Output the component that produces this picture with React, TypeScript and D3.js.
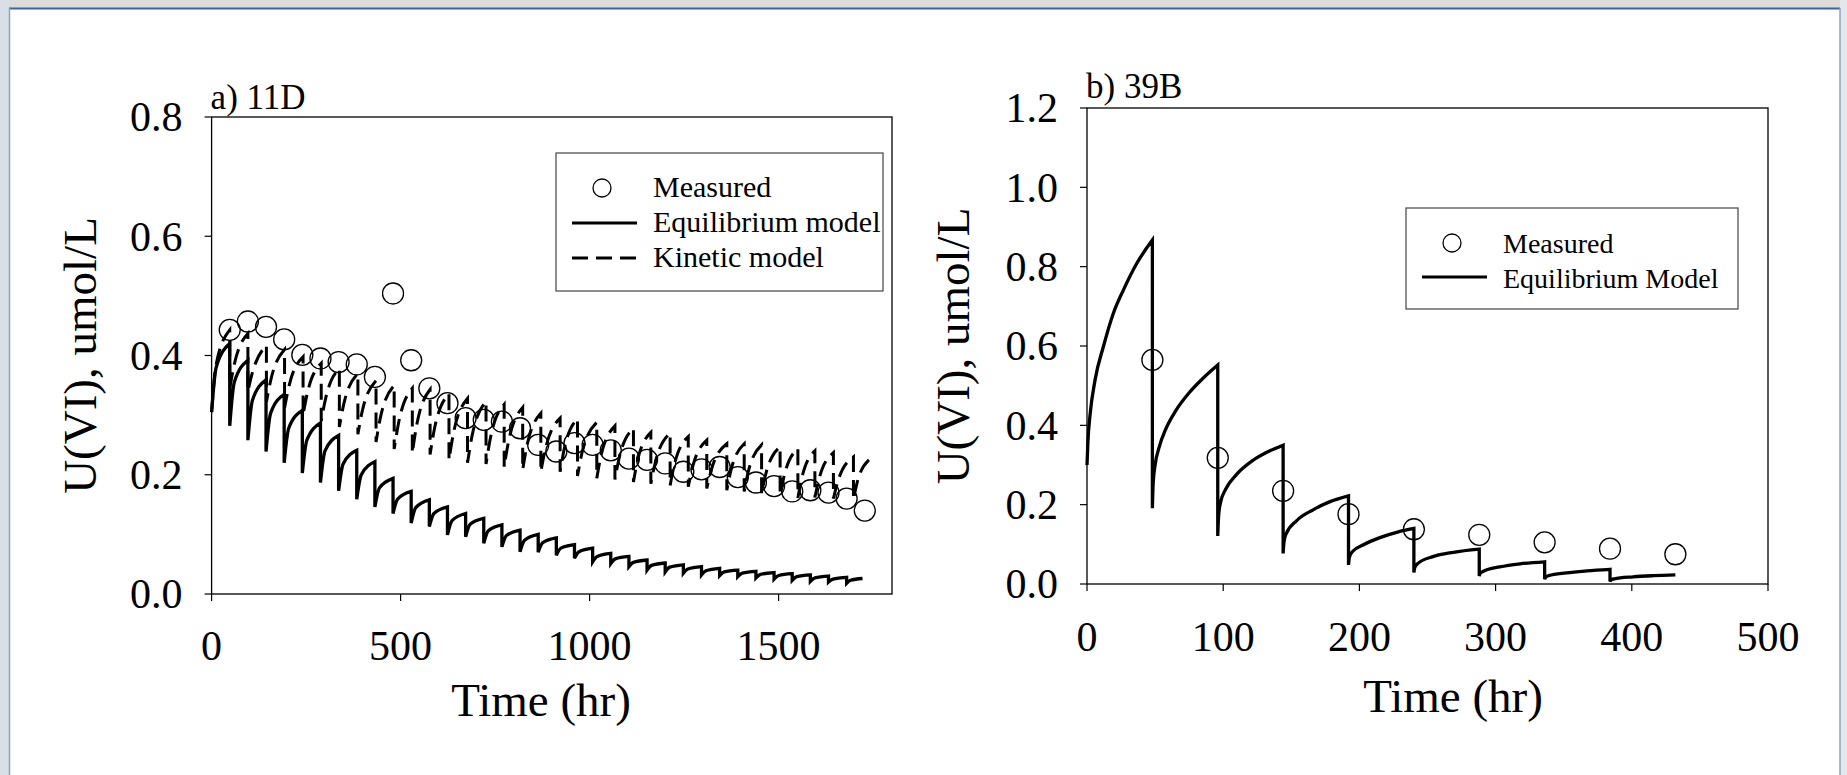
import React, { useEffect } from 'react';
import * as d3 from 'd3';

// ---- a) 11D ----
// measured U(VI), sampled every 48 hr
const measATime = [48, 96, 144, 192, 240, 288, 336, 384, 432, 480, 528, 576, 624, 672, 720, 768, 816, 864,
  912, 960, 1008, 1056, 1104, 1152, 1200, 1248, 1296, 1344, 1392, 1440, 1488, 1536, 1584, 1632, 1680, 1728];
const measAValue = [0.443, 0.457, 0.448, 0.427, 0.401, 0.395, 0.389, 0.385, 0.364, 0.504, 0.392, 0.345,
  0.320, 0.295, 0.292, 0.289, 0.278, 0.250, 0.239, 0.253, 0.250, 0.241, 0.227, 0.225, 0.219, 0.205, 0.209,
  0.213, 0.196, 0.187, 0.181, 0.172, 0.174, 0.170, 0.160, 0.140];

// equilibrium model: each tooth starts at a drop (low), passes mid (1/4 of the way), ends at peak
const eqAStart = [0, 48, 96, 144, 192, 240, 288, 336, 384, 432, 480, 528, 576, 624, 672, 720, 768, 816,
  864, 912, 960, 1008, 1056, 1104, 1152, 1200, 1248, 1296, 1344, 1392, 1440, 1488, 1536, 1584, 1632, 1680];
const eqAEnd = 1722;
const eqALow = [0.305, 0.282, 0.258, 0.239, 0.220, 0.203, 0.187, 0.173, 0.159, 0.146, 0.135, 0.119, 0.113,
  0.099, 0.096, 0.085, 0.079, 0.071, 0.070, 0.065, 0.060, 0.054, 0.051, 0.046, 0.040, 0.037, 0.035, 0.032,
  0.031, 0.029, 0.027, 0.025, 0.023, 0.021, 0.020, 0.018];
const eqAMid = [0.380, 0.355, 0.325, 0.303, 0.278, 0.258, 0.240, 0.218, 0.200, 0.178, 0.159, 0.145, 0.135,
  0.123, 0.117, 0.106, 0.098, 0.090, 0.086, 0.077, 0.071, 0.063, 0.059, 0.053, 0.048, 0.045, 0.042, 0.039,
  0.037, 0.035, 0.033, 0.031, 0.029, 0.027, 0.025, 0.023];
const eqAPeak = [0.420, 0.392, 0.359, 0.335, 0.308, 0.287, 0.266, 0.241, 0.222, 0.194, 0.172, 0.158, 0.146,
  0.135, 0.127, 0.116, 0.107, 0.100, 0.094, 0.083, 0.077, 0.068, 0.063, 0.057, 0.052, 0.049, 0.046, 0.043,
  0.040, 0.038, 0.036, 0.034, 0.032, 0.030, 0.028, 0.026];

// kinetic model (dashed)
const kinAStart = [0, 48, 96, 145, 193, 242, 290, 338, 387, 435, 483, 531, 578, 628, 677, 726, 774, 823,
  871, 922, 968, 1019, 1067, 1116, 1162, 1213, 1261, 1310, 1363, 1409, 1455, 1504, 1551, 1596, 1645, 1698];
const kinAEnd = 1739;
const kinALow = [0.305, 0.345, 0.340, 0.322, 0.312, 0.300, 0.290, 0.280, 0.268, 0.255, 0.243, 0.236, 0.234,
  0.225, 0.220, 0.218, 0.213, 0.208, 0.205, 0.205, 0.198, 0.194, 0.192, 0.188, 0.185, 0.182, 0.180, 0.177,
  0.174, 0.172, 0.169, 0.165, 0.161, 0.162, 0.160, 0.158];
const kinAMid = [0.385, 0.385, 0.372, 0.360, 0.350, 0.339, 0.329, 0.320, 0.308, 0.297, 0.288, 0.284, 0.280,
  0.271, 0.266, 0.263, 0.258, 0.251, 0.245, 0.245, 0.239, 0.234, 0.231, 0.226, 0.223, 0.219, 0.215, 0.211,
  0.209, 0.207, 0.204, 0.201, 0.197, 0.196, 0.192, 0.188];
const kinAPeak = [0.443, 0.437, 0.417, 0.410, 0.398, 0.387, 0.378, 0.370, 0.358, 0.350, 0.345, 0.343, 0.336,
  0.328, 0.323, 0.318, 0.313, 0.303, 0.295, 0.294, 0.288, 0.282, 0.278, 0.271, 0.270, 0.264, 0.258, 0.252,
  0.252, 0.250, 0.247, 0.244, 0.240, 0.237, 0.230, 0.225];

// ---- b) 39B ----
const measBTime = [48, 96, 144, 192, 240, 288, 336, 384, 432];
const measBValue = [0.565, 0.318, 0.235, 0.176, 0.138, 0.124, 0.105, 0.089, 0.075];

// equilibrium model, points; a repeated time is a drop
const eqB: [number, number][] = [
  [0, 0.300], [0.7, 0.360], [2.2, 0.425], [5.9, 0.514], [12, 0.598], [19.3, 0.682], [26.7, 0.741], [36.5, 0.808], [48, 0.867],
  [48, 0.191], [48.6, 0.255], [50, 0.300], [53, 0.345], [58, 0.392], [65, 0.436], [75, 0.482], [85, 0.518], [96, 0.552],
  [96, 0.121], [96.6, 0.170], [98, 0.205], [102, 0.240], [110, 0.277], [122, 0.312], [132, 0.332], [144, 0.350],
  [144, 0.077], [144.6, 0.105], [146, 0.125], [154, 0.160], [166, 0.187], [178, 0.207], [192, 0.222],
  [192, 0.048], [192.7, 0.068], [195, 0.082], [203, 0.099], [215, 0.117], [228, 0.131], [240, 0.140],
  [240, 0.029], [240.7, 0.042], [243, 0.052], [254, 0.069], [269, 0.080], [288, 0.088],
  [288, 0.020], [288.7, 0.027], [291, 0.032], [303, 0.043], [318, 0.051], [336, 0.056],
  [336, 0.012], [336.7, 0.017], [339, 0.021], [352, 0.028], [367, 0.033], [384, 0.037],
  [384, 0.006], [384.7, 0.010], [387, 0.013], [401, 0.018], [416, 0.021], [432, 0.023],
];

// ticks
const xTicksA = [0, 500, 1000, 1500];
const yTicksA = [0, 0.2, 0.4, 0.6, 0.8];
const xTicksB = [0, 100, 200, 300, 400, 500];
const yTicksB = [0, 0.2, 0.4, 0.6, 0.8, 1.0, 1.2];

const FONT = '"Liberation Serif", "Times New Roman", serif';
const fmt = d3.format('.1f');

type Scale = d3.ScaleLinear<number, number>;

// build one continuous path of teeth from low/mid/peak arrays
function sawtooth(x: Scale, y: Scale, starts: number[], end: number, lows: number[], mids: number[], peaks: number[]) {
  const line = d3.line<[number, number]>().x(d => x(d[0])).y(d => y(d[1])).curve(d3.curveMonotoneX);
  return starts.map((t0, i) => {
    const t1 = i + 1 < starts.length ? starts[i + 1] : end;
    const seg = line([[t0, lows[i]], [t0 + (t1 - t0) / 4, mids[i]], [t1, peaks[i]]]) || '';
    return i === 0 ? seg : 'L' + seg.slice(1);
  }).join('');
}

// same but from a flat list of points where a repeated time starts a new tooth
function sawtoothPoints(x: Scale, y: Scale, pts: [number, number][]) {
  const line = d3.line<[number, number]>().x(d => x(d[0])).y(d => y(d[1])).curve(d3.curveMonotoneX);
  const teeth: [number, number][][] = [];
  pts.forEach((p, i) => {
    if (i === 0 || p[0] === pts[i - 1][0]) teeth.push([p]);
    else teeth[teeth.length - 1].push(p);
  });
  return teeth.map((tooth, i) => {
    const seg = line(tooth) || '';
    return i === 0 ? seg : 'L' + seg.slice(1);
  }).join('');
}

function Frame(props: {
  x: Scale; y: Scale; xTicks: number[]; yTicks: number[];
  xLabelY: number; xTitleX: number; xTitleY: number; yTitleX: number; label: string; labelY: number;
}) {
  const { x, y, xTicks, yTicks, xLabelY, xTitleX, xTitleY, yTitleX, label, labelY } = props;
  const [x0, x1] = x.range();
  const [y0, y1] = y.range();
  return (
    <g fontFamily={FONT} fill="#000">
      <rect x={x0} y={y1} width={x1 - x0} height={y0 - y1} fill="none" stroke="#000" strokeWidth={1.3} />
      {xTicks.map(t => (
        <g key={'x' + t}>
          <line x1={x(t)} x2={x(t)} y1={y0} y2={y0 + 7} stroke="#000" strokeWidth={1.2} />
          <text x={x(t)} y={xLabelY} fontSize={42} textAnchor="middle">{String(t)}</text>
        </g>
      ))}
      {yTicks.map(t => (
        <g key={'y' + t}>
          <line x1={x0 - 7} x2={x0} y1={y(t)} y2={y(t)} stroke="#000" strokeWidth={1.2} />
          <text x={x0 - 29} y={y(t)} dy="0.34em" fontSize={42} textAnchor="end">{fmt(t)}</text>
        </g>
      ))}
      <text x={xTitleX} y={xTitleY} fontSize={47} textAnchor="middle">Time (hr)</text>
      <text transform={`translate(${yTitleX},${(y0 + y1) / 2}) rotate(-90)`} fontSize={47} textAnchor="middle">
        U(VI), umol/L
      </text>
      <text x={x0 - 1} y={labelY} fontSize={35}>{label}</text>
    </g>
  );
}

export default function App() {
  useEffect(() => {
    document.body.style.margin = '0';
    document.body.style.overflow = 'hidden';
  }, []);

  const W = 1847;
  const H = 775;

  const xA = d3.scaleLinear().domain([0, 1800]).range([211.6, 892]);
  const yA = d3.scaleLinear().domain([0, 0.8]).range([594, 117]);
  const xB = d3.scaleLinear().domain([0, 500]).range([1087, 1768]);
  const yB = d3.scaleLinear().domain([0, 1.2]).range([584, 108]);

  const eqAPath = sawtooth(xA, yA, eqAStart, eqAEnd, eqALow, eqAMid, eqAPeak);
  const kinAPath = sawtooth(xA, yA, kinAStart, kinAEnd, kinALow, kinAMid, kinAPeak);
  const eqBPath = sawtoothPoints(xB, yB, eqB);

  return (
    <svg width={W} height={H} style={{ position: 'absolute', left: 0, top: 0, background: '#fff' }}>
      {/* window chrome */}
      <rect x={0} y={0} width={W} height={8} fill="#dcdcdc" />
      <line x1={0} x2={W} y1={8.5} y2={8.5} stroke="#3b6697" strokeWidth={2} />
      <rect x={0} y={0} width={9} height={H} fill="#d9dfe6" />
      <line x1={9.5} x2={9.5} y1={8} y2={H} stroke="#8fa3b8" strokeWidth={1.5} />
      <rect x={1840} y={0} width={7} height={H} fill="#e4e8ec" />
      <line x1={1840} x2={1840} y1={8} y2={H} stroke="#8fa3b8" strokeWidth={1.5} />

      {/* panel a */}
      <Frame x={xA} y={yA} xTicks={xTicksA} yTicks={yTicksA}
        xLabelY={660} xTitleX={541} xTitleY={716} yTitleX={96} label="a) 11D" labelY={109} />
      <path d={eqAPath} fill="none" stroke="#000" strokeWidth={3.3} />
      <path d={kinAPath} fill="none" stroke="#000" strokeWidth={3} strokeDasharray="16 8" />
      {measATime.map((t, i) => (
        <circle key={t} cx={xA(t)} cy={yA(measAValue[i])} r={10.5} fill="none" stroke="#000" strokeWidth={1.3} />
      ))}
      <g fontFamily={FONT} fontSize={30}>
        <rect x={556} y={153} width={327} height={138} fill="#fff" stroke="#444" strokeWidth={1.2} />
        <circle cx={602} cy={188} r={9} fill="none" stroke="#000" strokeWidth={1.3} />
        <text x={653} y={197}>Measured</text>
        <line x1={572} x2={637} y1={223} y2={223} stroke="#000" strokeWidth={3} />
        <text x={653} y={232}>Equilibrium model</text>
        <line x1={572} x2={637} y1={258} y2={258} stroke="#000" strokeWidth={3} strokeDasharray="16 8" />
        <text x={653} y={267}>Kinetic model</text>
      </g>

      {/* panel b */}
      <Frame x={xB} y={yB} xTicks={xTicksB} yTicks={yTicksB}
        xLabelY={651} xTitleX={1453} xTitleY={712} yTitleX={969} label="b) 39B" labelY={98} />
      <path d={eqBPath} fill="none" stroke="#000" strokeWidth={3.3} />
      {measBTime.map((t, i) => (
        <circle key={t} cx={xB(t)} cy={yB(measBValue[i])} r={10.5} fill="none" stroke="#000" strokeWidth={1.3} />
      ))}
      <g fontFamily={FONT} fontSize={28}>
        <rect x={1406} y={208} width={332} height={101} fill="#fff" stroke="#444" strokeWidth={1.2} />
        <circle cx={1452} cy={243} r={9} fill="none" stroke="#000" strokeWidth={1.3} />
        <text x={1503} y={253}>Measured</text>
        <line x1={1422} x2={1487} y1={277} y2={277} stroke="#000" strokeWidth={3} />
        <text x={1503} y={287.5}>Equilibrium Model</text>
      </g>
    </svg>
  );
}
